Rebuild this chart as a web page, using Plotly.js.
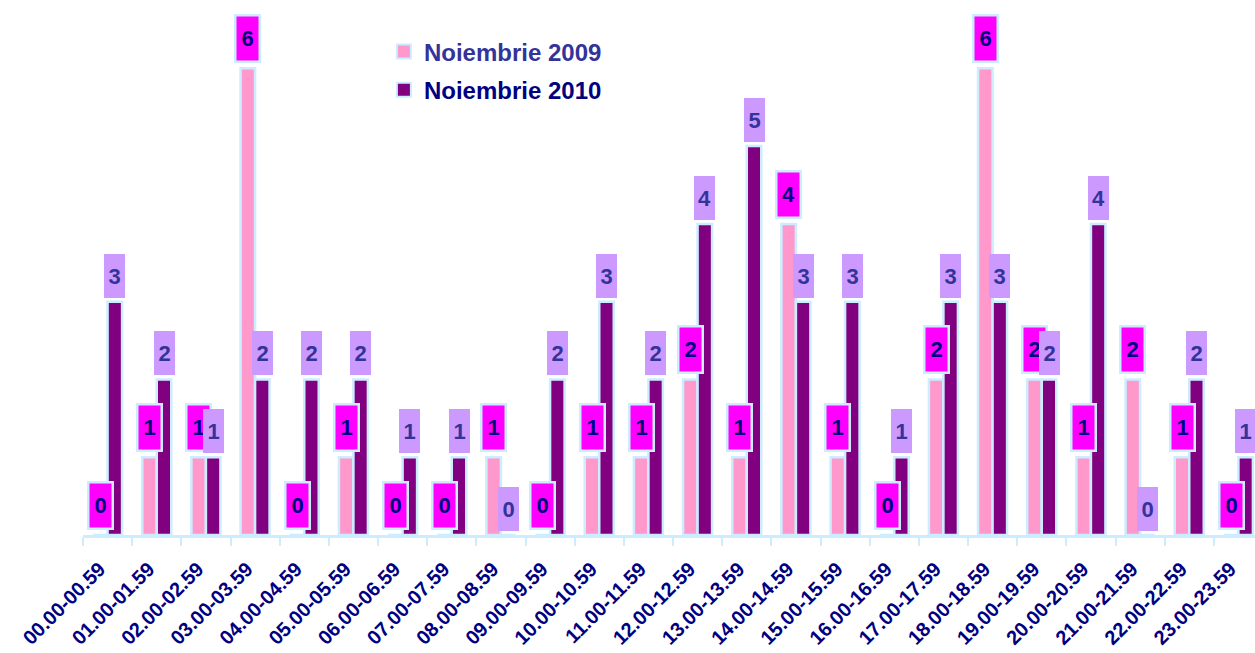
<!DOCTYPE html>
<html>
<head>
<meta charset="utf-8">
<script src="https://cdn.plot.ly/plotly-3.0.1.min.js"></script>
<style>
html,body{margin:0;padding:0;overflow:hidden;background:#fff;}
#chart{width:1275px;height:653px;}
</style>
</head>
<body>
<div id="chart"></div>
<script>
const categories = ["00.00-00.59","01.00-01.59","02.00-02.59","03.00-03.59","04.00-04.59","05.00-05.59",
  "06.00-06.59","07.00-07.59","08.00-08.59","09.00-09.59","10.00-10.59","11.00-11.59",
  "12.00-12.59","13.00-13.59","14.00-14.59","15.00-15.59","16.00-16.59","17.00-17.59",
  "18.00-18.59","19.00-19.59","20.00-20.59","21.00-21.59","22.00-22.59","23.00-23.59"];
const values2009 = [0,1,1,6,0,1,0,0,1,0,1,1,2,1,4,1,0,2,6,2,1,2,1,0];
const values2010 = [3,2,1,2,2,2,1,1,0,2,3,2,4,5,3,3,1,3,3,2,4,0,2,1];
const seriesNames = ["Noiembrie 2009","Noiembrie 2010"];

const FONT = "Arial, 'Liberation Sans', sans-serif";
const BORDER = "#CCECFF";
const C2009 = "#FF99CC", C2010 = "#800080";

const traces = [
  {type:"bar", x:categories, y:values2009, name:seriesNames[0], showlegend:false,
   marker:{color:C2009, line:{color:BORDER, width:2.5}}, hoverinfo:"x+y"},
  {type:"bar", x:categories, y:values2010, name:seriesNames[1], showlegend:false,
   marker:{color:C2010, line:{color:BORDER, width:2.5}}, hoverinfo:"x+y"},
  {type:"scatter", mode:"markers", x:[categories[0]], y:[null], legendgroup:"a",
   name:'<span style="color:#333399">'+seriesNames[0]+'</span>',
   marker:{symbol:"square", size:14, color:C2009, line:{color:BORDER, width:2}}},
  {type:"scatter", mode:"markers", x:[categories[0]], y:[null], legendgroup:"b",
   name:'<span style="color:#000080">'+seriesNames[1]+'</span>',
   marker:{symbol:"square", size:14, color:C2010, line:{color:BORDER, width:2}}}
];

const annotations = [];
categories.forEach((c,i)=>{
  annotations.push({x:c, y:values2009[i], xref:"x", yref:"y", xshift:-7.25, yshift:5,
    yanchor:"bottom", xanchor:"center", showarrow:false, text:"<b>"+values2009[i]+"</b>",
    font:{family:FONT, size:22, color:"#000080"}, bgcolor:"#FF00FF", bordercolor:BORDER,
    borderwidth:2.5, borderpad:0, width:22, height:44, valign:"middle"});
});
categories.forEach((c,i)=>{
  annotations.push({x:c, y:values2010[i], xref:"x", yref:"y", xshift:7.25, yshift:4,
    yanchor:"bottom", xanchor:"center", showarrow:false, text:"<b>"+values2010[i]+"</b>",
    font:{family:FONT, size:22, color:"#333399"}, bgcolor:"#CC99FF",
    borderwidth:0, borderpad:0, width:21, height:44, valign:"middle"});
});

const layout = {
  width:1275, height:653,
  margin:{l:83, r:12, t:10, b:118},
  paper_bgcolor:"#fff", plot_bgcolor:"#fff",
  barmode:"group", bargap:0.41, bargroupgap:0,
  showlegend:true,
  legend:{x:0.255, y:0.963, xanchor:"left", yanchor:"top", bgcolor:"rgba(0,0,0,0)",
    font:{family:FONT, size:24, color:"#333399", weight:"bold"}, traceorder:"grouped", tracegroupgap:4,
    itemsizing:"trace"},
  xaxis:{type:"category", tickson:"boundaries", ticks:"outside", ticklen:8, tickwidth:2, tickcolor:BORDER,
    showline:true, linecolor:BORDER, linewidth:2.5, showgrid:false, zeroline:false,
    ticklabelstandoff:12, ticklabelshift:-8,
    tickangle:-45, tickfont:{family:FONT, size:20, color:"#000080", weight:"bold"}, range:[-0.5,23.5]},
  yaxis:{range:[0,6.75], visible:false, showgrid:false, zeroline:false},
  annotations:annotations,
  font:{family:FONT}
};

Plotly.newPlot("chart", traces, layout, {displayModeBar:false, staticPlot:true});
</script>
</body>
</html>
